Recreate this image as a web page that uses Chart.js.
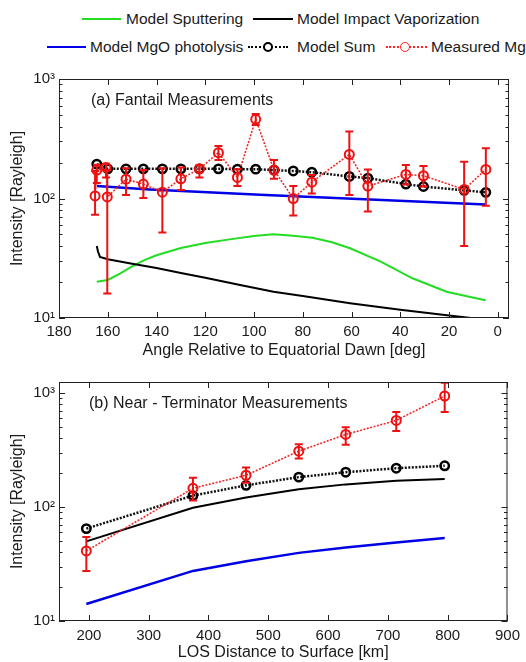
<!DOCTYPE html>
<html>
<head>
<meta charset="utf-8">
<script src="https://cdn.jsdelivr.net/npm/chart.js@4.4.1/dist/chart.umd.min.js"></script>
<style>
body { margin:0; width:526px; height:662px; overflow:hidden; background:#fff; position:relative;
       font-family:"Liberation Sans", Arial, sans-serif; color:#1a1a1a; }
.lg { position:absolute; font-size:15.5px; line-height:18px; white-space:nowrap; }
.ln { position:absolute; height:0; }
.mk { position:absolute; border-radius:50%; background:#fff; box-sizing:border-box; }
.note { position:absolute; font-size:16px; line-height:18px; white-space:nowrap; }
canvas { position:absolute; left:0; }
</style>
</head>
<body>
<!-- legend -->
<div class="ln" style="left:82px;top:18px;width:39px;border-top:2px solid #22dd22"></div>
<div class="lg" style="left:126px;top:10px">Model Sputtering</div>
<div class="ln" style="left:253px;top:18px;width:40px;border-top:2px solid #000"></div>
<div class="lg" style="left:297px;top:10px">Model Impact Vaporization</div>
<div class="ln" style="left:47px;top:46px;width:39px;border-top:2.5px solid #0000e6"></div>
<div class="lg" style="left:90px;top:38px">Model MgO photolysis</div>
<div class="ln" style="left:248px;top:46px;width:40px;border-top:2.5px dotted #000"></div>
<div class="mk" style="left:263px;top:42px;width:10px;height:10px;border:2.5px solid #000"></div>
<div class="lg" style="left:297px;top:38px">Model Sum</div>
<div class="ln" style="left:386px;top:46px;width:41px;border-top:2px dotted #f22"></div>
<div class="mk" style="left:400px;top:42px;width:10px;height:10px;border:1.5px solid #f22"></div>
<div class="lg" style="left:431px;top:38px">Measured Mg</div>

<canvas id="top" width="526" height="300" style="top:62px"></canvas>
<canvas id="bottom" width="526" height="300" style="top:362px"></canvas>

<div class="note" style="left:91px;top:91px">(a) Fantail Measurements</div>
<div class="note" style="left:89px;top:394px">(b) Near - Terminator Measurements</div>

<script>
// ---- panel (a): fantail, x = angle from equatorial dawn [deg]
const sputterAngle = [164.5, 160, 155, 150, 145, 140, 130, 120, 110, 100, 92, 84, 76, 68, 60.6, 48, 35, 21, 12.7, 5];
const sputterVal   = [20.1, 20.8, 23.5, 27, 30.5, 33.5, 38.5, 42.5, 45.5, 48.5, 50.1, 48.8, 47, 43, 38.3, 29.6, 21.5, 16.6, 15.2, 14.1];

const impactAngle = [164.5, 164, 163.2, 160, 150, 140, 130, 120, 105.7, 92, 80, 60.6, 40, 20, 11, 4.9];
const impactVal   = [40, 36, 32.5, 31, 28.5, 26.2, 23.8, 21.7, 18.9, 16.6, 15.3, 13.3, 11.7, 10.5, 10, 9.6];

const photoAngle = [164.5, 142.8, 97.5, 50, 4.9];
const photoVal   = [127, 119, 107.5, 97.5, 89];

const sumAngle = [164.5, 160, 152.5, 145.4, 137.6, 130, 122.4, 114.6, 106.8, 99.3, 91.8, 83.9, 76.3, 60.9, 53.3, 37.7, 30.5, 13.8, 4.9];
const sumVal   = [194, 177, 177, 177, 177, 177, 177, 177, 176, 176, 173, 170, 166, 153, 148, 132, 126, 117, 112.6];

const measAngle = [165.2, 164.5, 160.7, 160.2, 152.5, 145.4, 137.6, 130, 122.4, 114.6, 106.8, 99.3, 91.8, 83.9, 76.3, 60.9, 53.3, 37.7, 30.5, 13.8, 4.9];
const measVal   = [105, 173, 182, 103, 145, 132, 113, 146, 177, 242, 150, 460, 173, 100, 137, 234, 127, 159, 155, 119, 175];
const measLo    = [73, 135, 150, 16, 107, 101, 52, 118, 150, 210, 127, 412, 146, 72, 110, 107, 78, 131, 126, 40, 87];
const measHi    = [170, 192, 195, 173, 179, 173, 179, 182, 190, 275, 176, 510, 210, 127, 157, 363, 175, 191, 187, 203, 263];

// ---- panel (b): near-terminator, x = LOS distance [km]
const losDist    = [195.7, 374, 462.8, 551, 629.5, 714, 795];
const impactLos  = [50, 98.5, 121, 143, 158, 170, 176];
const photoLos   = [14.1, 27.5, 33.5, 39.6, 44.1, 48.8, 53.5];
const sumLos     = [64.7, 126, 155, 183, 202, 219, 230];
const measLos    = [41.2, 146, 190, 309, 433, 575, 942];
const measLosLo  = [27.5, 114, 163, 267, 352, 465, 683];
const measLosHi  = [54.7, 181, 222, 355, 500, 683, 1230];

// tick values / labels
const angleTicks = [0, 20, 40, 60, 80, 100, 120, 140, 160, 180];
const losTicks = [200, 300, 400, 500, 600, 700, 800, 900];
const majorTicks = [10, 100, 1000];
const majorLabels = ['10\u00B9', '10\u00B2', '10\u00B3'];

const FONT = '"Liberation Sans", Arial, sans-serif';
const TXT = '#1a1a1a';

const logTicks = [];
for (let d = 10; d < 1000; d *= 10) for (let m = 1; m < 10; m++) logTicks.push(m * d);
logTicks.push(1000);

const pts = (xs, ys) => xs.map((x, i) => ({ x, y: ys[i] }));

// matlab-like box with inward ticks
const framePlugin = {
  id: 'frame',
  afterDraw(chart) {
    const { ctx, chartArea: a, scales: { x, y } } = chart;
    ctx.save();
    ctx.strokeStyle = '#222';
    ctx.lineWidth = 1;
    ctx.strokeRect(a.left + 0.5, a.top + 0.5, a.right - a.left - 1, a.bottom - a.top - 1);
    ctx.beginPath();
    x.ticks.forEach(t => {
      const px = Math.round(x.getPixelForValue(t.value)) + 0.5;
      ctx.moveTo(px, a.bottom); ctx.lineTo(px, a.bottom - 6);
      ctx.moveTo(px, a.top); ctx.lineTo(px, a.top + 6);
    });
    y.ticks.forEach(t => {
      const py = Math.round(y.getPixelForValue(t.value)) + 0.5;
      const len = majorTicks.includes(t.value) ? 6 : 3.5;
      ctx.moveTo(a.left, py); ctx.lineTo(a.left + len, py);
      ctx.moveTo(a.right, py); ctx.lineTo(a.right - len, py);
    });
    ctx.stroke();
    ctx.restore();
  }
};

function errorBars(xs, lo, hi) {
  return {
    id: 'errbars',
    afterDatasetsDraw(chart) {
      const { ctx, chartArea: a, scales: { x, y } } = chart;
      ctx.save();
      ctx.beginPath();
      ctx.rect(a.left, a.top, a.right - a.left, a.bottom - a.top);
      ctx.clip();
      ctx.strokeStyle = '#ee1111';
      ctx.lineWidth = 2;
      xs.forEach((v, i) => {
        const px = x.getPixelForValue(v);
        const p1 = y.getPixelForValue(lo[i]);
        const p2 = y.getPixelForValue(hi[i]);
        ctx.beginPath();
        ctx.moveTo(px, p1); ctx.lineTo(px, p2);
        ctx.moveTo(px - 4, p1); ctx.lineTo(px + 4, p1);
        ctx.moveTo(px - 4, p2); ctx.lineTo(px + 4, p2);
        ctx.stroke();
      });
      ctx.restore();
    }
  };
}

function modelLine(data, color, width, order) {
  return { data, borderColor: color, borderWidth: width, pointRadius: 0, order, clip: 0 };
}
function sumLine(data) {
  return { data, borderColor: '#111', borderWidth: 2.5, borderDash: [2, 1.5], order: 1,
           pointRadius: 4.2, pointBorderWidth: 2.5, pointBorderColor: '#000', pointBackgroundColor: 'rgba(0,0,0,0)' };
}
function measLine(data) {
  return { data, borderColor: '#f02828', borderWidth: 1.6, borderDash: [2, 1.5], order: 0,
           pointRadius: 4.5, pointBorderWidth: 2, pointBorderColor: '#ee1111', pointBackgroundColor: 'rgba(0,0,0,0)' };
}

function yAxis(max) {
  return {
    type: 'logarithmic', min: 10, max, bounds: 'data',
    afterBuildTicks: s => { s.ticks = logTicks.map(v => ({ value: v })); },
    afterFit: s => { s.width = 59; },
    ticks: {
      autoSkip: false, padding: 4, color: TXT, font: { size: 15, family: FONT },
      callback: v => { const k = majorTicks.indexOf(v); return k >= 0 ? majorLabels[k] : ''; }
    },
    grid: { display: false, drawTicks: false },
    border: { display: false },
    title: { display: true, text: 'Intensity [Rayleigh]', color: TXT, font: { size: 16, family: FONT },
             padding: { top: 8, bottom: 0 } }
  };
}

function xAxis(opts) {
  return {
    type: 'linear', bounds: 'data', min: opts.min, max: opts.max, reverse: !!opts.reverse,
    afterBuildTicks: s => { s.ticks = opts.ticks.map(v => ({ value: v })); },
    afterFit: s => { s.height = opts.height; },
    ticks: { padding: opts.pad, maxRotation: 0, autoSkip: false,
             color: TXT, font: { size: 15, family: FONT } },
    grid: { display: false, drawTicks: false },
    border: { display: false },
    title: { display: true, text: opts.title, color: TXT, font: { size: 16, family: FONT },
             padding: { top: 0, bottom: opts.tpad } }
  };
}

const common = {
  responsive: false, animation: false, devicePixelRatio: 1,
  plugins: { legend: { display: false }, tooltip: { enabled: false } }
};

new Chart(document.getElementById('top'), {
  type: 'line',
  data: {
    datasets: [
      modelLine(pts(sputterAngle, sputterVal), '#22dd22', 2, 4),
      modelLine(pts(impactAngle, impactVal), '#000', 2, 3),
      modelLine(pts(photoAngle, photoVal), '#0000e6', 2.5, 2),
      sumLine(pts(sumAngle, sumVal)),
      measLine(pts(measAngle, measVal))
    ]
  },
  options: {
    ...common,
    layout: { padding: { left: 0, right: 17, top: 17, bottom: 0 } },
    scales: {
      x: xAxis({ min: -4.6, max: 180, reverse: true, ticks: angleTicks, height: 44, pad: 5, tpad: 2,
                 title: 'Angle Relative to Equatorial Dawn [deg]' }),
      y: yAxis(1000)
    }
  },
  plugins: [framePlugin, errorBars(measAngle, measLo, measHi)]
});

new Chart(document.getElementById('bottom'), {
  type: 'line',
  data: {
    datasets: [
      modelLine(pts(losDist, impactLos), '#000', 2, 3),
      modelLine(pts(losDist, photoLos), '#0000e6', 2.5, 2),
      sumLine(pts(losDist, sumLos)),
      measLine(pts(losDist, measLos))
    ]
  },
  options: {
    ...common,
    layout: { padding: { left: 0, right: 17, top: 20, bottom: 0 } },
    scales: {
      x: xAxis({ min: 150, max: 900, ticks: losTicks, height: 41, pad: 6, tpad: 0,
                 title: 'LOS Distance to Surface [km]' }),
      y: yAxis(1250)
    }
  },
  plugins: [framePlugin, errorBars(losDist, measLosLo, measLosHi)]
});
</script>
</body>
</html>
